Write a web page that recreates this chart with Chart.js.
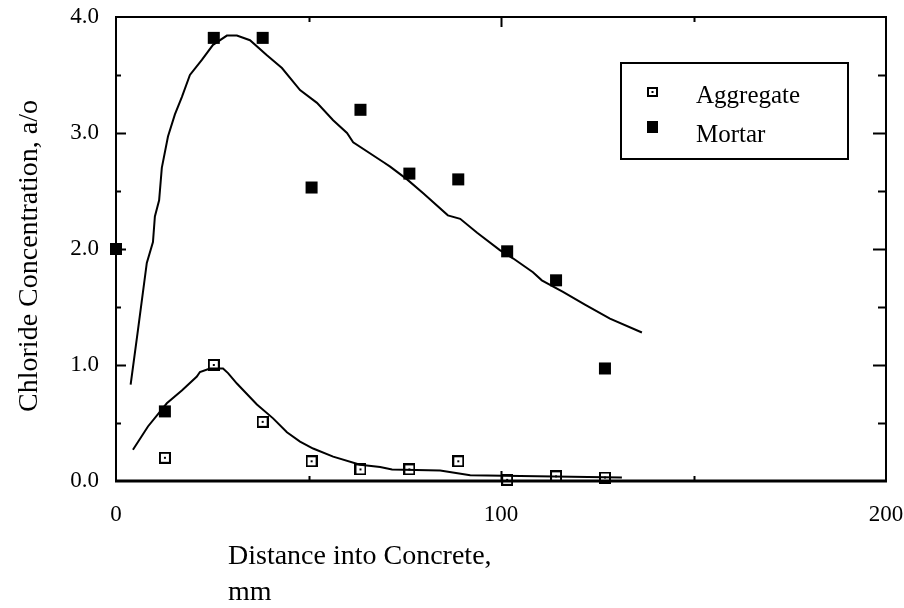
<!DOCTYPE html>
<html>
<head>
<meta charset="utf-8">
<script src="https://cdn.jsdelivr.net/npm/chart.js@4"></script>
<style>
  html, body { margin: 0; padding: 0; background: #fff; }
  #wrap { width: 904px; height: 608px; }
</style>
</head>
<body>
<div id="wrap"><canvas id="c" width="904" height="608"></canvas></div>
<script>
// ---- data ----
const mortarX = [0, 12.7, 25.4, 38.1, 50.8, 63.5, 76.2, 88.9, 101.6, 114.3, 127.0];
const mortarY = [2.0, 0.6, 3.82, 3.82, 2.53, 3.2, 2.65, 2.6, 1.98, 1.73, 0.97];
const aggregateX = [12.7, 25.4, 38.1, 50.8, 63.5, 76.2, 88.9, 101.6, 114.3, 127.0];
const aggregateY = [0.2, 1.0, 0.51, 0.17, 0.1, 0.1, 0.17, 0.01, 0.04, 0.03];

const mortarFitX = [3.8, 5.7, 8.0, 9.6, 10.1, 11.2, 11.9, 13.5, 15.3, 17.1, 19.2, 22.3, 25.2, 28.8, 31.4, 34.8, 39.2, 43.1, 47.8, 52.2, 56.4, 60.0, 61.6, 69.4, 71.2, 75.6, 79.8, 86.2, 89.4, 93.8, 99.7, 103.1, 108.3, 110.6, 116.1, 121.8, 128.3, 136.6];
const mortarFitY = [0.83, 1.3, 1.88, 2.06, 2.28, 2.42, 2.7, 2.97, 3.16, 3.31, 3.5, 3.63, 3.76, 3.84, 3.84, 3.8, 3.67, 3.56, 3.37, 3.26, 3.11, 3.0, 2.92, 2.75, 2.71, 2.6, 2.48, 2.29, 2.26, 2.14, 1.99, 1.92, 1.8, 1.73, 1.63, 1.52, 1.4, 1.28];
const aggregateFitX = [4.4, 8.3, 13.2, 17.1, 21.0, 21.8, 24.4, 27.8, 29.1, 31.4, 36.6, 40.8, 44.4, 47.8, 51.2, 56.4, 63.4, 68.6, 71.7, 84.2, 92.0, 109.4, 131.4];
const aggregateFitY = [0.27, 0.47, 0.67, 0.78, 0.9, 0.94, 0.97, 0.97, 0.93, 0.84, 0.66, 0.54, 0.42, 0.34, 0.28, 0.21, 0.14, 0.12, 0.1, 0.09, 0.05, 0.04, 0.03];

const xTickLabels = ['0', '100', '200'];
const yTickLabels = ['0.0', '1.0', '2.0', '3.0', '4.0'];
const seriesNames = ['Aggregate', 'Mortar'];
const xTitleLines = ['Distance into Concrete,', 'mm'];
const yTitle = 'Chloride Concentration, a/o';

// ---- helpers ----
const pts = (xs, ys) => xs.map((x, i) => ({ x: x, y: ys[i] }));
const FONT = "'Liberation Serif', 'Times New Roman', serif";

function openSquare(w, h) {
  const c = document.createElement('canvas');
  c.width = w; c.height = h;
  const g = c.getContext('2d');
  g.strokeStyle = '#000';
  g.lineWidth = 2;
  g.strokeRect(1, 1, w - 2, h - 2);
  g.fillStyle = '#000';
  g.fillRect(Math.floor(w / 2) - 1, Math.floor(h / 2) - 1, 2, 2);
  return c;
}
const aggMarker = openSquare(12, 12);

const frameTicks = {
  id: 'frameTicks',
  beforeDatasetsDraw(chart) {
    const { ctx, chartArea: a, scales } = chart;
    const xs = scales.x, ys = scales.y;
    ctx.save();
    ctx.strokeStyle = '#000';
    ctx.lineWidth = 2;
    ctx.strokeRect(a.left, a.top, a.right - a.left, a.bottom - a.top);
    ctx.lineWidth = 3;
    ctx.beginPath();
    ctx.moveTo(a.left - 1, a.bottom); ctx.lineTo(a.right + 1, a.bottom);
    ctx.stroke();
    ctx.lineWidth = 2;
    ctx.beginPath();
    for (let v = 50; v < 200; v += 50) {
      const px = Math.round(xs.getPixelForValue(v)) + 0.5;
      const len = v % 100 === 0 ? 10 : 5;
      ctx.moveTo(px, a.bottom); ctx.lineTo(px, a.bottom - len);
      ctx.moveTo(px, a.top); ctx.lineTo(px, a.top + len);
    }
    for (let v = 0.5; v < 4; v += 0.5) {
      const py = Math.round(ys.getPixelForValue(v)) + 0.5;
      const major = Math.abs(v - Math.round(v)) < 1e-6;
      ctx.moveTo(a.left, py); ctx.lineTo(a.left + (major ? 10 : 5), py);
      ctx.moveTo(a.right, py); ctx.lineTo(a.right - (major ? 13 : 8), py);
    }
    ctx.stroke();
    ctx.restore();
  },
  afterDraw(chart) {
    const { ctx } = chart;
    ctx.save();
    ctx.fillStyle = '#000';
    // y title
    ctx.font = '28px ' + FONT;
    ctx.textAlign = 'center';
    ctx.textBaseline = 'middle';
    ctx.translate(30, 256);
    ctx.rotate(-Math.PI / 2);
    ctx.fillText(yTitle, 0, 0);
    ctx.restore();
    // x title (two lines, left aligned)
    ctx.save();
    ctx.fillStyle = '#000';
    ctx.font = '28px ' + FONT;
    ctx.textAlign = 'left';
    ctx.textBaseline = 'alphabetic';
    ctx.fillText(xTitleLines[0], 228, 564);
    ctx.fillText(xTitleLines[1], 228, 600);
    // legend box
    ctx.lineWidth = 2;
    ctx.strokeStyle = '#000';
    ctx.strokeRect(621, 63, 227, 96);
    ctx.font = '25px ' + FONT;
    ctx.fillText(chart.data.datasets[0].label, 696, 103);
    ctx.fillText(chart.data.datasets[1].label, 696, 142);
    // legend markers
    ctx.lineWidth = 2;
    ctx.strokeRect(648, 88, 9, 8);
    ctx.fillRect(651.5, 91, 2, 2);
    ctx.fillRect(647, 121, 11, 12);
    ctx.restore();
  }
};

new Chart(document.getElementById('c'), {
  type: 'scatter',
  data: {
    datasets: [
      {
        label: seriesNames[0],
        data: pts(aggregateX, aggregateY),
        pointStyle: aggMarker,
        pointRadius: 6,
        showLine: false,
        clip: false
      },
      {
        label: seriesNames[1],
        data: pts(mortarX, mortarY),
        pointStyle: 'rect',
        pointRadius: 8.5,
        backgroundColor: '#000',
        borderWidth: 0,
        showLine: false,
        clip: false
      },
      {
        label: 'Mortar fit',
        data: pts(mortarFitX, mortarFitY),
        showLine: true,
        borderColor: '#000',
        borderWidth: 2,
        pointRadius: 0,
        tension: 0,
        fill: false
      },
      {
        label: 'Aggregate fit',
        data: pts(aggregateFitX, aggregateFitY),
        showLine: true,
        borderColor: '#000',
        borderWidth: 2,
        pointRadius: 0,
        tension: 0,
        fill: false
      }
    ]
  },
  options: {
    responsive: false,
    devicePixelRatio: 1,
    animation: false,
    layout: { padding: { top: 17, right: 18, left: 0, bottom: 0 } },
    plugins: { legend: { display: false }, tooltip: { enabled: false } },
    scales: {
      x: {
        type: 'linear', min: 0, max: 200,
        grid: { display: false, drawTicks: false },
        border: { display: false },
        afterFit(s) { s.height = 127; s.paddingLeft = 0; s.paddingRight = 0; },
        afterBuildTicks(s) { s.ticks = xTickLabels.map(t => ({ value: Number(t) })); },
        ticks: {
          autoSkip: false, maxRotation: 0, padding: 20, color: '#000',
          font: { family: FONT, size: 23 },
          callback: (v) => { const i = xTickLabels.findIndex(t => Number(t) === v); return i >= 0 ? xTickLabels[i] : ''; }
        }
      },
      y: {
        type: 'linear', min: 0, max: 4,
        grid: { display: false, drawTicks: false },
        border: { display: false },
        afterFit(s) { s.width = 116; s.paddingTop = 0; s.paddingBottom = 0; },
        afterBuildTicks(s) { s.ticks = yTickLabels.map(t => ({ value: Number(t) })); },
        ticks: {
          autoSkip: false, padding: 17, color: '#000',
          font: { family: FONT, size: 23 },
          callback: (v) => { const i = yTickLabels.findIndex(t => Number(t) === v); return i >= 0 ? yTickLabels[i] : ''; }
        }
      }
    }
  },
  plugins: [frameTicks]
});
</script>
</body>
</html>
